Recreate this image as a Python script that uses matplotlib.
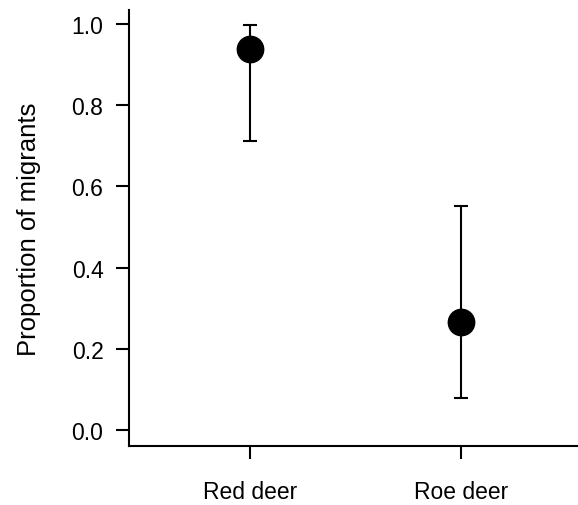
import matplotlib
matplotlib.use("Agg")
import matplotlib.pyplot as plt

species = ["Red deer", "Roe deer"]
proportion = [0.938, 0.266]
ci_low = [0.712, 0.079]
ci_high = [0.997, 0.552]
yticks = [0.0, 0.2, 0.4, 0.6, 0.8, 1.0]

plt.rcParams['font.family'] = ['Liberation Sans', 'DejaVu Sans']

fig = plt.figure(figsize=(5.78, 5.06), dpi=100)
ax = fig.add_axes([129/578, 59/506, 449/578, 436/506])

x = list(range(len(species)))
yerr = [[p - l for p, l in zip(proportion, ci_low)],
        [h - p for p, h in zip(proportion, ci_high)]]
ax.errorbar(x, proportion, yerr=yerr, fmt='o', color='black', ecolor='black',
            markersize=19, elinewidth=1.5, capsize=4.7, capthick=1.5)

ax.set_xlim(-0.573, 1.555)
ax.set_ylim(-0.0394, 1.0345)
ax.set_xticks(x)
ax.set_xticklabels(species)
ax.set_yticks(yticks)
ax.set_yticklabels([f"{v:.1f}" for v in yticks])
ax.set_ylabel("Proportion of migrants", fontsize=18.5, labelpad=22)

for s in ['top', 'right']:
    ax.spines[s].set_visible(False)
for s in ['left', 'bottom']:
    ax.spines[s].set_linewidth(1.5)
ax.tick_params(axis='both', length=9.4, width=1.5, labelsize=16.5)
ax.tick_params(axis='x', pad=15)
ax.tick_params(axis='y', pad=9)

fig.savefig("out.png", dpi=100)
